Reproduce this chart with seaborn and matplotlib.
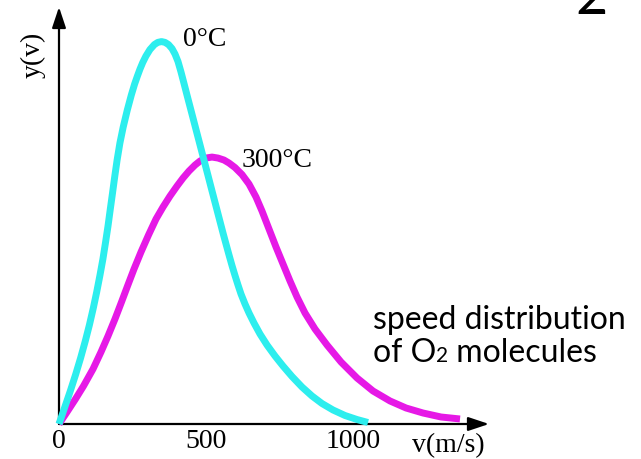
import matplotlib
matplotlib.use('Agg')
import matplotlib.pyplot as plt
import seaborn as sns
from matplotlib.offsetbox import TextArea, HPacker, AnnotationBbox

# Speed (m/s) and relative distribution y(v)
speed_0C = [0, 18.7, 38.4, 57.0, 73.3, 89.3, 103.2, 116.5, 128.0, 139.2, 149.1, 158.2, 166.4,
            174.2, 181.7, 189.5, 197.3, 206.8, 218.0, 231.9, 245.5, 256.7, 266.2, 275.0, 284.2,
            295.1, 308.7, 323.9, 335.5, 348.1,
            360.0, 371.8, 383.7, 393.9, 404.1, 414.3, 424.5, 434.6, 444.8, 455.0, 465.2, 475.4,
            485.6, 495.8, 506.0, 516.1, 526.3, 536.5, 546.7, 556.9, 567.1, 577.3, 587.4, 597.6,
            607.8, 618.0, 631.6, 645.2, 662.1, 682.5, 706.3, 733.5, 760.6, 791.2, 825.1, 859.1,
            893.0, 930.4, 971.1, 1011.9, 1049.2]
dist_0C = [0, 4.18, 8.62, 13.06, 17.23, 21.67, 25.85, 30.29, 34.47, 38.90, 43.08, 47.52, 51.70,
           56.14, 60.31, 64.75, 68.93, 73.37, 77.55, 81.99, 85.90, 88.77, 90.86, 92.69, 94.39,
           96.08, 97.78, 99.09, 99.66, 99.87,
           99.66, 99.09, 98.04, 96.61, 94.65, 91.91, 88.91, 85.90, 82.90, 79.90, 76.89, 73.89,
           70.89, 67.89, 64.88, 61.88, 58.88, 55.88, 52.87, 49.87, 46.99, 44.13, 41.38, 38.77,
           36.29, 33.94, 31.33, 28.98, 26.37, 23.50, 20.63, 17.75, 15.14, 12.40, 9.66, 7.31,
           5.35, 3.66, 2.22, 1.17, 0.39]

speed_300C = [0, 27.2, 56.0, 83.2, 115.5, 142.6, 166.4, 190.1, 212.2, 232.6, 254.7, 278.4,
              303.9, 329.4, 353.1, 376.9, 400.7, 421.1, 441.4, 461.8, 478.8, 499.2, 519.5,
              539.9, 560.3, 577.3, 597.6, 621.4, 645.2, 668.9, 689.3, 713.1, 736.9, 760.6,
              784.4, 808.2, 835.3, 869.3, 910.0, 957.6, 1011.9, 1066.2, 1124.0, 1178.3,
              1236.0, 1297.1, 1361.6]
dist_300C = [0, 3.13, 6.53, 9.92, 14.36, 18.80, 22.98, 27.42, 31.85, 36.03, 40.47, 44.91,
             49.35, 53.53, 56.66, 59.53, 62.14, 64.23, 66.06, 67.62, 68.67, 69.45, 69.71,
             69.45, 68.93, 68.15, 66.97, 65.14, 62.66, 59.27, 55.61, 50.91, 46.21, 41.78,
             37.34, 33.16, 28.98, 24.80, 20.63, 16.19, 12.01, 8.62, 6.01, 4.18,
             2.87, 1.83, 1.31]

xticks = [0, 500, 1000]
xtick_labels = ['0', '500', '1000']
label_0C = '0°C'
label_300C = '300°C'
x_label = 'v(m/s)'
y_label = 'y(v)'
note_line1 = 'speed distribution'
note_line2 = ['of O', '2', ' molecules']
page_number = '2'

color_0C = '#2DEEEE'
color_300C = '#E619E6'

sns.set_theme(style='white')
plt.rcParams['font.family'] = ['Liberation Serif', 'DejaVu Serif']
plt.rcParams['text.color'] = 'black'

fig = plt.figure(figsize=(6.41, 4.60), dpi=100)
W, H = 641, 460
ax = fig.add_axes([59 / W, 35 / H, 430 / W, 417 / H])
ax.set_xlim(0, 1460)
ax.set_ylim(0, 108.9)

sns.lineplot(x=speed_0C, y=dist_0C, ax=ax, color=color_0C, lw=5, sort=False,
             estimator=None, zorder=5, clip_on=False, solid_capstyle='butt',
             solid_joinstyle='round')
sns.lineplot(x=speed_300C, y=dist_300C, ax=ax, color=color_300C, lw=5, sort=False,
             estimator=None, zorder=4, clip_on=False, solid_capstyle='butt',
             solid_joinstyle='round')

for s in ax.spines.values():
    s.set_visible(False)
ax.grid(False)

arrow = dict(arrowstyle='-|>,head_length=0.9,head_width=0.3', mutation_scale=14,
             lw=1.6, color='black', shrinkA=0, shrinkB=0)
ax.annotate('', xy=(1, 0), xytext=(0, 0), xycoords='axes fraction', arrowprops=arrow, zorder=3)
ax.annotate('', xy=(0, 1), xytext=(0, 0), xycoords='axes fraction', arrowprops=arrow, zorder=3)

ax.set_xticks(xticks, xtick_labels, fontsize=20)
ax.set_yticks([])
ax.tick_params(axis='x', length=0, pad=3, colors='black')

def fx(px):
    return px / W

def fy(py):
    return 1 - py / H

fig.text(fx(205), fy(40), label_0C, fontsize=20, ha='center', va='center')
fig.text(fx(277), fy(161), label_300C, fontsize=20, ha='center', va='center')
fig.text(fx(448), fy(446), x_label, fontsize=20, ha='center', va='center')
fig.text(fx(33), fy(55), y_label, fontsize=20, ha='center', va='center', rotation=90)
fig.text(fx(591), fy(14), page_number, fontsize=40, ha='center', va='baseline', family='Lato')

fig.text(fx(373), fy(320), note_line1, fontsize=23, ha='left', va='center', family='Lato')
parts = [TextArea(note_line2[0], textprops=dict(fontsize=23, family='Lato', color='black')),
         TextArea(note_line2[1], textprops=dict(fontsize=15, family='Lato', color='black')),
         TextArea(note_line2[2], textprops=dict(fontsize=23, family='Lato', color='black'))]
box = HPacker(children=parts, align='baseline', pad=0, sep=0)
ab = AnnotationBbox(box, (fx(373), fy(353)), xycoords='figure fraction',
                    box_alignment=(0, 0.5), frameon=False, pad=0)
fig.add_artist(ab)

fig.savefig('out.png', dpi=100)
